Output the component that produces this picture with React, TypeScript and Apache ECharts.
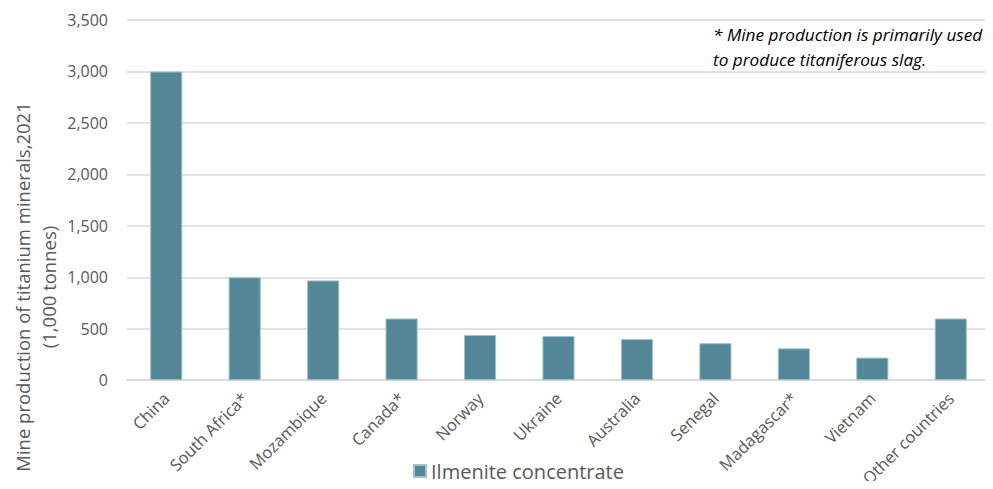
import React, { useEffect, useRef } from "react";
import * as echarts from "echarts";

const categories = [
  "China",
  "South Africa*",
  "Mozambique",
  "Canada*",
  "Norway",
  "Ukraine",
  "Australia",
  "Senegal",
  "Madagascar*",
  "Vietnam",
  "Other countries",
];

const ilmenite = [3000, 1000, 970, 600, 440, 430, 400, 360, 310, 220, 600];

const seriesName = "Ilmenite concentrate";
const yTitle = "Mine production of titanium minerals,2021\n(1,000 tonnes)";
const noteLines = ["* Mine production is primarily used", "to produce titaniferous slag."];

const FONT = "'Open Sans', 'Noto Sans', sans-serif";

export default function App() {
  const ref = useRef<HTMLDivElement>(null);

  useEffect(() => {
    if (!ref.current) return;
    const chart = echarts.init(ref.current, undefined, { renderer: "svg" });
    chart.setOption({
      animation: false,
      backgroundColor: "#ffffff",
      textStyle: { fontFamily: FONT },
      grid: { left: 127, right: 3, top: 20, bottom: 108, containLabel: false },
      legend: {
        data: [seriesName],
        top: 461,
        left: 413,
        padding: 0,
        itemWidth: 12,
        itemHeight: 12,
        itemGap: 6,
        icon: "rect",
        textStyle: { fontSize: 20, color: "#595959", fontFamily: FONT },
      },
      xAxis: {
        type: "category",
        data: categories,
        axisLine: { show: true, lineStyle: { color: "#d9d9d9", width: 1.5 } },
        axisTick: { show: false },
        axisLabel: {
          rotate: 45,
          interval: 0,
          fontSize: 16.5,
          color: "#595959",
          margin: 15,
          fontFamily: FONT,
        },
      },
      yAxis: {
        type: "value",
        min: 0,
        max: 3500,
        interval: 500,
        axisLine: { show: false },
        axisTick: { show: false },
        splitLine: { lineStyle: { color: "#d9d9d9", width: 1.5 } },
        axisLabel: {
          fontSize: 16,
          color: "#595959",
          margin: 19,
          fontFamily: FONT,
          formatter: (v: number) => v.toLocaleString("en-US"),
        },
      },
      series: [
        {
          name: seriesName,
          type: "bar",
          data: ilmenite,
          barWidth: "41%",
          itemStyle: { color: "#538797", borderColor: "#a3c1cb", borderWidth: 1 },
        },
      ],
      graphic: [
        {
          type: "text",
          x: 35,
          y: 287,
          rotation: Math.PI / 2,
          style: {
            text: yTitle,
            font: `18.5px ${FONT}`,
            fill: "#595959",
            align: "center",
            verticalAlign: "middle",
            lineHeight: 26,
          },
        },
        {
          type: "text",
          left: 713,
          top: 22,
          style: {
            text: noteLines.join("\n"),
            font: `italic 17.2px ${FONT}`,
            fill: "#000000",
            lineHeight: 25,
          },
        },
      ],
    });
    return () => chart.dispose();
  }, []);

  return <div ref={ref} style={{ width: 993, height: 489, margin: -8 }} />;
}
